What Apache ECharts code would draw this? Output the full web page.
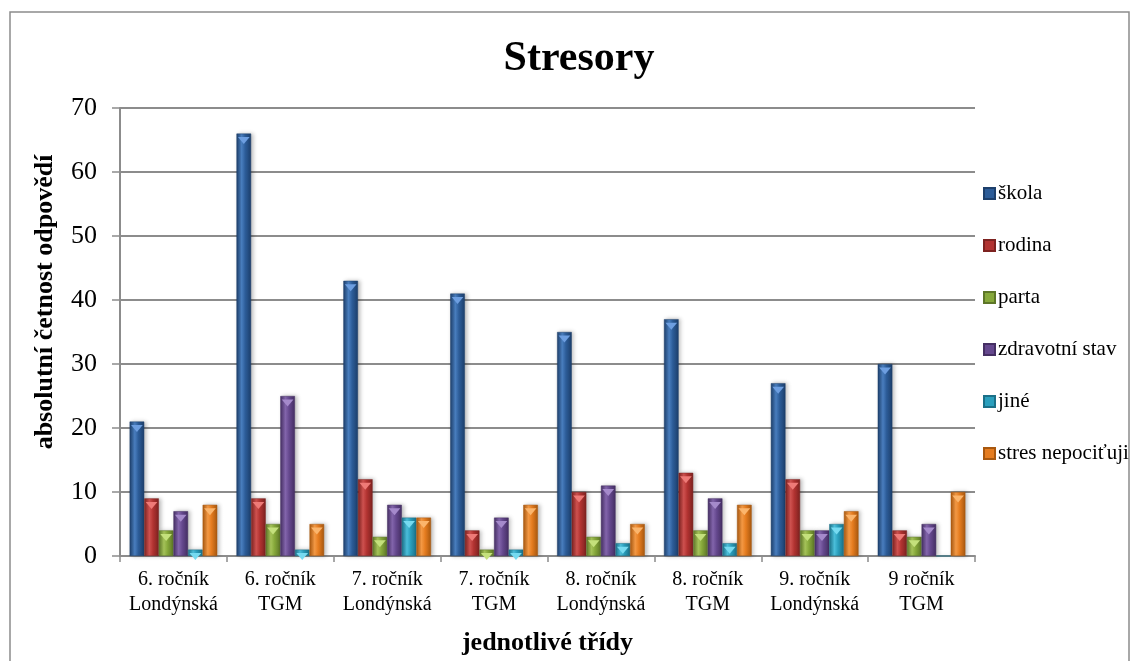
<!DOCTYPE html>
<html><head><meta charset="utf-8">
<script src="https://cdn.jsdelivr.net/npm/echarts@6/dist/echarts.min.js"></script>
<style>html,body{margin:0;padding:0;background:#fff}#c{width:1133px;height:661px}</style>
</head><body><div id="c"></div>
<script>
const categories = ['6. ročník\nLondýnská','6. ročník\nTGM','7. ročník\nLondýnská','7. ročník\nTGM','8. ročník\nLondýnská','8. ročník\nTGM','9. ročník\nLondýnská','9 ročník\nTGM'];
const seriesNames = ['škola','rodina','parta','zdravotní stav','jiné','stres nepociťuji'];
const skola = [21,66,43,41,35,37,27,30];
const rodina = [9,9,12,4,10,13,12,4];
const parta = [4,5,3,1,3,4,4,3];
const zdravotni = [7,25,8,6,11,9,4,5];
const jine = [1,1,6,1,2,2,5,0];
const stres = [8,5,6,8,5,8,7,10];
const yTicks = {min:0,max:70,interval:10};

const values = [skola,rodina,parta,zdravotni,jine,stres];
const baseCols = ['#2c5c98','#b23331','#86a83a','#65488e','#2a9fbd','#e57c1f'];
const darkCols = ['#1d3f6b','#7d2220','#5d7628','#452f63','#1b7088','#a8580f'];
const lightCols = ['#4a7fc0','#d05250','#a6c45a','#8466ad','#4cc0dc','#f59a45'];
const capCols = ['#6d9ee0','#ee7a77','#c4e07c','#a58acb','#76daf0','#fbb56c'];
const serif = 'Liberation Serif';

function grad(i){
  return new echarts.graphic.LinearGradient(0,0,1,0,[
    {offset:0,color:darkCols[i]},
    {offset:0.35,color:lightCols[i]},
    {offset:0.6,color:baseCols[i]},
    {offset:1,color:darkCols[i]}
  ]);
}
const series = [];
values.forEach((arr,i)=>{
  series.push({
    name: seriesNames[i], type:'bar', data: arr,
    barGap:'0%', barCategoryGap:'18%',
    itemStyle:{color:grad(i), borderColor:darkCols[i], borderWidth:0.5,
      shadowColor:'rgba(0,0,0,0.25)', shadowBlur:4, shadowOffsetX:2},
    z:2
  });
});
values.forEach((arr,i)=>{
  series.push({
    name: seriesNames[i], type:'pictorialBar',
    data: arr.map(v=> v>0 ? v : '-'),
    barGap:'0%', barCategoryGap:'18%',
    symbol:'triangle', symbolRotate:180, symbolSize:['80%',7],
    symbolPosition:'end', symbolOffset:[0,'50%'],
    itemStyle:{color:capCols[i]},
    legendHoverLink:false, silent:true, z:3
  });
});

const chart = echarts.init(document.getElementById('c'));
chart.setOption({
  animation:false,
  backgroundColor:'#fff',
  graphic:[{type:'rect', shape:{x:10,y:12,width:1119,height:660}, style:{fill:'none',stroke:'#8c8c8c',lineWidth:1.5}, z:-1}],
  title:{text:'Stresory', left:574, top:33, textAlign:'center',
    textStyle:{fontFamily:serif,fontWeight:'bold',fontSize:42,color:'#000'}},
  legend:{
    data: seriesNames.map((n,i)=>({name:n, itemStyle:{color:baseCols[i]}})),
    orient:'vertical', left:978, top:178, itemGap:31,
    itemWidth:11, itemHeight:11, icon:'rect',
    textStyle:{fontFamily:serif,fontSize:21,color:'#000', padding:[0,0,0,-2]}
  },
  grid:{left:120, right:158, top:108, bottom:104},
  xAxis:{
    type:'category', data:categories,
    axisLine:{lineStyle:{color:'#8c8c8c',width:2}},
    axisTick:{show:true, length:6, lineStyle:{color:'#8c8c8c',width:1.5}},
    axisLabel:{interval:0, fontFamily:serif,fontSize:20,color:'#000',lineHeight:25,margin:11},
    name:'jednotlivé třídy', nameLocation:'middle', nameGap:74,
    nameTextStyle:{fontFamily:serif,fontWeight:'bold',fontSize:26,color:'#000'}
  },
  yAxis:{
    type:'value', min:yTicks.min, max:yTicks.max, interval:yTicks.interval,
    axisLine:{show:true,lineStyle:{color:'#8c8c8c',width:2}},
    axisTick:{show:true, length:8, lineStyle:{color:'#8c8c8c',width:1.5}},
    splitLine:{lineStyle:{color:'#8c8c8c',width:2}},
    axisLabel:{fontFamily:serif,fontSize:26,color:'#000',margin:23},
    name:'absolutní četnost odpovědí', nameLocation:'middle', nameGap:62,
    nameTextStyle:{fontFamily:serif,fontWeight:'bold',fontSize:26,color:'#000',padding:[0,0,0,60]}
  },
  series: series
});
</script></body></html>
